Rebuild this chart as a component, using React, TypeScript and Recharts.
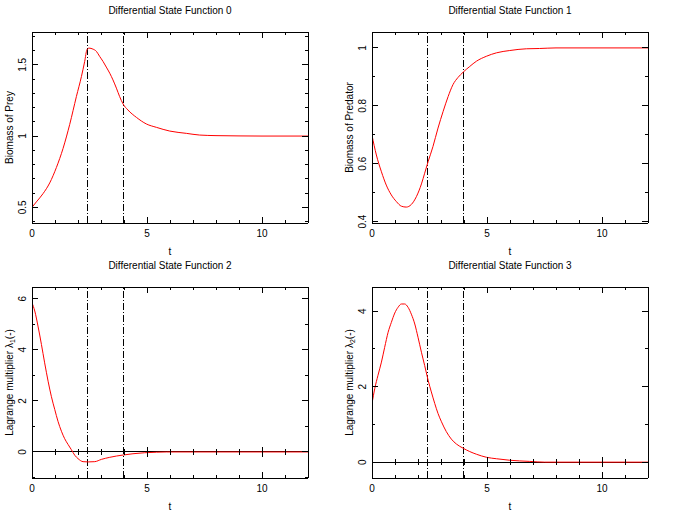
import React from 'react';
import { ComposedChart, Line, XAxis, YAxis, ReferenceLine, ReferenceDot } from 'recharts';

const FONT = '"Liberation Sans", Arial, sans-serif';

// switching times (dash-dot markers)
const switchTimes = [2.43, 3.97];

const tTicks = [0, 1, 2, 3, 4, 5, 6, 7, 8, 9, 10, 11, 12];
const tMajor = [0, 5, 10];
const tDomain: [number, number] = [0, 12];
const zeroTicks = [1, 2, 3, 4, 5, 6, 7, 8, 9, 10, 11];

// state 0: prey
const tPrey = [0, 0.19, 0.48, 0.77, 1.06, 1.35, 1.64, 1.93, 2.15, 2.29, 2.39, 2.48, 2.65, 2.8, 2.94, 3.09, 3.23, 3.38, 3.52, 3.67, 3.81, 3.96, 4.17, 4.54, 4.97, 5.41, 5.99, 6.71, 7.29, 8, 9, 10, 12];
const prey = [0.5, 0.538, 0.596, 0.671, 0.779, 0.913, 1.082, 1.277, 1.418, 1.523, 1.606, 1.617, 1.61, 1.594, 1.559, 1.523, 1.484, 1.441, 1.394, 1.336, 1.277, 1.225, 1.183, 1.131, 1.085, 1.061, 1.035, 1.019, 1.007, 1.003, 1.001, 1.0, 1.0];
const preyTicks = [0.4, 0.5, 0.6, 0.7, 0.8, 0.9, 1, 1.1, 1.2, 1.3, 1.4, 1.5, 1.6, 1.7];
const preyMajor = [0.5, 1, 1.5];

// state 1: predator
const tPred = [0, 0.19, 0.41, 0.62, 0.84, 1.06, 1.28, 1.49, 1.71, 1.93, 2.15, 2.29, 2.44, 2.65, 2.87, 3.09, 3.31, 3.52, 3.74, 3.96, 4.25, 4.54, 4.97, 5.41, 5.99, 6.71, 7.29, 8, 12];
const pred = [0.698, 0.63, 0.572, 0.526, 0.492, 0.469, 0.453, 0.45, 0.459, 0.486, 0.53, 0.567, 0.607, 0.659, 0.723, 0.78, 0.832, 0.873, 0.898, 0.916, 0.936, 0.954, 0.971, 0.983, 0.991, 0.997, 0.998, 1.0, 1.0];
const predTicks = [0.4, 0.5, 0.6, 0.7, 0.8, 0.9, 1];
const predMajor = [0.4, 0.6, 0.8, 1];

// state 2: lambda 1
const tLam1 = [0, 0.12, 0.26, 0.41, 0.55, 0.7, 0.84, 0.99, 1.13, 1.28, 1.42, 1.57, 1.71, 1.86, 2.0, 2.22, 2.44, 2.73, 3.02, 3.38, 3.67, 3.96, 4.39, 4.9, 5.41, 5.84, 12];
const lam1 = [5.84, 5.52, 4.93, 4.21, 3.49, 2.77, 2.18, 1.66, 1.2, 0.81, 0.52, 0.29, 0.09, -0.13, -0.26, -0.38, -0.39, -0.38, -0.29, -0.21, -0.16, -0.12, -0.07, -0.03, -0.01, 0, 0];
const lam1Ticks = [-1, 0, 1, 2, 3, 4, 5, 6];
const lam1Major = [0, 2, 4, 6];

// state 3: lambda 2
const tLam2 = [0, 0.12, 0.26, 0.41, 0.55, 0.7, 0.84, 0.99, 1.13, 1.28, 1.42, 1.57, 1.71, 1.86, 2.0, 2.15, 2.29, 2.44, 2.58, 2.73, 2.87, 3.02, 3.23, 3.45, 3.67, 3.96, 4.25, 4.54, 4.97, 5.41, 5.99, 6.86, 7.5, 12];
const lam2 = [1.55, 1.95, 2.3, 2.65, 3.04, 3.44, 3.7, 3.95, 4.1, 4.19, 4.19, 4.1, 3.92, 3.66, 3.31, 2.91, 2.56, 2.17, 1.86, 1.55, 1.29, 1.07, 0.81, 0.61, 0.48, 0.37, 0.28, 0.21, 0.13, 0.09, 0.05, 0.02, 0, 0];
const lam2Ticks = [0, 1, 2, 3, 4];
const lam2Major = [0, 2, 4];

// plot box inside each 340x255 panel
const PLOT_W = 276;
const PLOT_H = 191;

const txt = { fontFamily: FONT, fontSize: 10, fill: '#000' };

// bottom tick + mirrored tick on the top edge
const BottomTick = ({ x, y, payload }: any) => {
  const len = tMajor.includes(payload.value) ? 6 : 3;
  const top = y - PLOT_H;
  return (
    <g>
      <line x1={x} x2={x} y1={y} y2={y - len} stroke="#000" shapeRendering="crispEdges" />
      <line x1={x} x2={x} y1={top} y2={top + len} stroke="#000" shapeRendering="crispEdges" />
      {len === 6 && <text x={x} y={y + 10} textAnchor="middle" dominantBaseline="central" {...txt}>{payload.value}</text>}
    </g>
  );
};

// left tick + mirrored tick on the right edge
const makeLeftTick = (majors: number[]) => ({ x, y, payload }: any) => {
  const major = majors.includes(payload.value);
  const len = major ? 6 : 3;
  const right = x + PLOT_W;
  const lx = x - 9;
  return (
    <g>
      <line x1={x} x2={x + len} y1={y} y2={y} stroke="#000" shapeRendering="crispEdges" />
      <line x1={right} x2={right - len} y1={y} y2={y} stroke="#000" shapeRendering="crispEdges" />
      {major && (
        <text x={lx} y={y} transform={`rotate(-90 ${lx} ${y})`} textAnchor="middle" dominantBaseline="central" {...txt}>
          {payload.value}
        </text>
      )}
    </g>
  );
};

const yLabel = (content: React.ReactNode) => (p: any) => {
  const vb = p.viewBox;
  const cx = vb.x + 9;
  const cy = vb.y + vb.height / 2;
  return (
    <text x={cx} y={cy} transform={`rotate(-90 ${cx} ${cy})`} textAnchor="middle" dominantBaseline="central" {...txt}>
      {content}
    </text>
  );
};

const xLabel = (p: any) => {
  const vb = p.viewBox;
  return (
    <text x={vb.x + vb.width / 2} y={vb.y + 28} textAnchor="middle" dominantBaseline="central" {...txt}>t</text>
  );
};

const ZeroTick = ({ cx, cy, t }: any) => {
  const h = tMajor.includes(t) ? 5 : 3;
  return <line x1={cx} x2={cx} y1={cy - h} y2={cy + h} stroke="#000" shapeRendering="crispEdges" />;
};

interface PanelProps {
  left: number;
  top: number;
  title: string;
  ylabel: React.ReactNode;
  t: number[];
  v: number[];
  yDomain: [number, number];
  yTicks: number[];
  yMajor: number[];
  zeroAxis?: boolean;
}

function Panel({ left, top, title, ylabel, t, v, yDomain, yTicks, yMajor, zeroAxis }: PanelProps) {
  const data = t.map((tt, i) => ({ t: tt, v: v[i] }));
  const axisLine = { stroke: '#000', shapeRendering: 'crispEdges' };
  return (
    <div style={{ position: 'absolute', left, top, width: 340, height: 255 }}>
      <div style={{ position: 'absolute', left: 32, top: 3, width: PLOT_W, textAlign: 'center', fontFamily: FONT, fontSize: 10, lineHeight: '16px', color: '#000' }}>
        {title}
      </div>
      <ComposedChart width={340} height={255} data={data} margin={{ top: 32, right: 32, bottom: 0, left: 0 }}>
        <XAxis dataKey="t" type="number" domain={tDomain} ticks={tTicks} interval={0} allowDataOverflow
          height={32} tickSize={0} tickMargin={0} tickLine={false} axisLine={axisLine}
          tick={(p: any) => <BottomTick {...p} />} label={{ value: 't', content: xLabel }} />
        <YAxis type="number" domain={yDomain} ticks={yTicks} interval={0} allowDataOverflow
          width={32} tickSize={0} tickMargin={0} tickLine={false} axisLine={axisLine}
          tick={makeLeftTick(yMajor)} label={{ value: 'y', content: yLabel(ylabel) }} />
        {/* top and right edges of the frame */}
        <ReferenceLine y={yDomain[1]} stroke="#000" shapeRendering="crispEdges" />
        <ReferenceLine x={tDomain[1]} stroke="#000" shapeRendering="crispEdges" />
        {zeroAxis && <ReferenceLine y={0} stroke="#000" shapeRendering="crispEdges" />}
        {zeroAxis && zeroTicks.map(zt => (
          <ReferenceDot key={zt} x={zt} y={0} shape={(p: any) => <ZeroTick {...p} t={zt} />} />
        ))}
        {switchTimes.map(st => (
          <ReferenceLine key={st} x={st} stroke="#000" strokeDasharray="7 2 1 2" shapeRendering="crispEdges" />
        ))}
        <Line type="monotone" dataKey="v" stroke="#ff0000" strokeWidth={1} dot={false} activeDot={false} isAnimationActive={false} />
      </ComposedChart>
    </div>
  );
}

export default function App() {
  const lamLabel = (n: string) => (
    <>
      Lagrange multiplier λ<tspan dy={3} fontSize={7}>{n}</tspan><tspan dy={-3}>(-)</tspan>
    </>
  );
  return (
    <div style={{ position: 'absolute', left: 0, top: 0, width: 681, height: 511, background: '#fff' }}>
      <Panel left={0} top={0} title="Differential State Function 0" ylabel="Biomass of Prey"
        t={tPrey} v={prey} yDomain={[0.39, 1.73]} yTicks={preyTicks} yMajor={preyMajor} />
      <Panel left={340} top={0} title="Differential State Function 1" ylabel="Biomass of Predator"
        t={tPred} v={pred} yDomain={[0.395, 1.055]} yTicks={predTicks} yMajor={predMajor} />
      <Panel left={0} top={255} title="Differential State Function 2" ylabel={lamLabel('1')}
        t={tLam1} v={lam1} yDomain={[-1.02, 6.46]} yTicks={lam1Ticks} yMajor={lam1Major} zeroAxis />
      <Panel left={340} top={255} title="Differential State Function 3" ylabel={lamLabel('2')}
        t={tLam2} v={lam2} yDomain={[-0.42, 4.64]} yTicks={lam2Ticks} yMajor={lam2Major} zeroAxis />
    </div>
  );
}
